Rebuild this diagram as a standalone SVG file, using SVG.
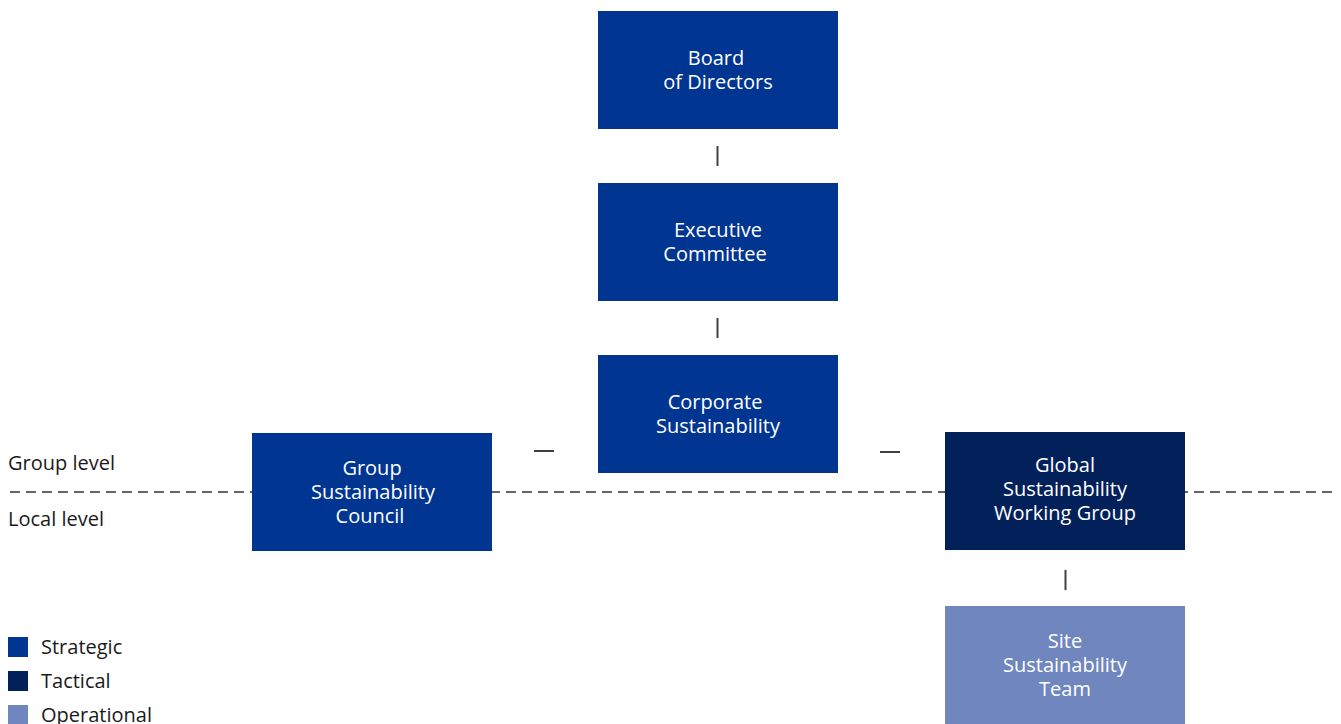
<svg xmlns="http://www.w3.org/2000/svg" width="1341" height="724" viewBox="0 0 1341 724">
  <style>
    text { font-family: "Open Sans", "Noto Sans", "Liberation Sans", sans-serif; font-size: 20px; font-variant-ligatures: none; }
    .lbl { fill: #ffffff; text-anchor: middle; }
    .dark { fill: #1a1a1a; }
    .strategic { fill: #003591; }
    .tactical { fill: #02215a; }
    .operational { fill: #6f86bf; }
    .conn { stroke: #404040; stroke-width: 2; fill: none; }
    .level { stroke: #333333; stroke-width: 1.5; stroke-dasharray: 10 6; fill: none; }
  </style>

  <!-- group / local boundary -->
  <line class="level" x1="10" y1="492" x2="1336" y2="492"/>
  <text class="dark" x="8" y="470">Group level</text>
  <text class="dark" x="8" y="526">Local level</text>

  <g id="connectors">
    <line class="conn" x1="717.5" y1="146" x2="717.5" y2="166"/>
    <line class="conn" x1="717.5" y1="318" x2="717.5" y2="338"/>
    <line class="conn" x1="534" y1="451" x2="554" y2="451"/>
    <line class="conn" x1="880" y1="452" x2="900" y2="452"/>
    <line class="conn" x1="1065.5" y1="570" x2="1065.5" y2="590"/>
  </g>

  <g id="board">
    <rect class="strategic" x="598" y="11" width="240" height="118"/>
    <text class="lbl" x="716" y="65">Board</text>
    <text class="lbl" x="718" y="89">of Directors</text>
  </g>

  <g id="executive">
    <rect class="strategic" x="598" y="183" width="240" height="118"/>
    <text class="lbl" x="718" y="237">Executive</text>
    <text class="lbl" x="715" y="261">Committee</text>
  </g>

  <g id="corporate">
    <rect class="strategic" x="598" y="355" width="240" height="118"/>
    <text class="lbl" x="715" y="409">Corporate</text>
    <text class="lbl" x="718" y="433">Sustainability</text>
  </g>

  <g id="council">
    <rect class="strategic" x="252" y="433" width="240" height="118"/>
    <text class="lbl" x="372" y="475">Group</text>
    <text class="lbl" x="373" y="499">Sustainability</text>
    <text class="lbl" x="370" y="523">Council</text>
  </g>

  <g id="working-group">
    <rect class="tactical" x="945" y="432" width="240" height="118"/>
    <text class="lbl" x="1065" y="472">Global</text>
    <text class="lbl" x="1065" y="496">Sustainability</text>
    <text class="lbl" x="1065" y="520">Working Group</text>
  </g>

  <g id="site-team">
    <rect class="operational" x="945" y="606" width="240" height="130"/>
    <text class="lbl" x="1065" y="648">Site</text>
    <text class="lbl" x="1065" y="672">Sustainability</text>
    <text class="lbl" x="1065" y="696">Team</text>
  </g>

  <g id="legend">
    <rect class="strategic" x="8" y="637" width="20" height="20"/>
    <text class="dark" x="41" y="654">Strategic</text>
    <rect class="tactical" x="8" y="671" width="20" height="20"/>
    <text class="dark" x="41" y="688">Tactical</text>
    <rect class="operational" x="8" y="705" width="20" height="20"/>
    <text class="dark" x="41" y="722">Operational</text>
  </g>
</svg>
